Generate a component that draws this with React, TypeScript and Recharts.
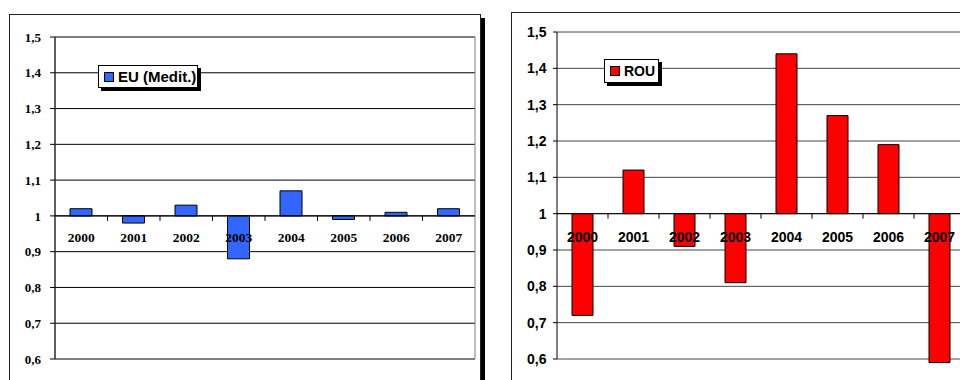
import {
  ComposedChart,
  Bar,
  Line,
  XAxis,
  YAxis,
  CartesianGrid,
  ReferenceLine,
  ReferenceArea,
  LabelList,
} from "recharts";

const YEARS = ["2000", "2001", "2002", "2003", "2004", "2005", "2006", "2007"];
const EU_MEDIT = [1.02, 0.98, 1.03, 0.88, 1.07, 0.99, 1.01, 1.02];
const ROU = [0.72, 1.12, 0.91, 0.81, 1.44, 1.27, 1.19, 0.59];
const Y_TICKS = [0.6, 0.7, 0.8, 0.9, 1, 1.1, 1.2, 1.3, 1.4, 1.5];
const BASELINE = 1;

const SERIF = '"Liberation Serif", "Times New Roman", serif';
const SANS = '"Liberation Sans", Arial, sans-serif';

const fmtTick = (v: number) => (v === 1 ? "1" : v.toFixed(1).replace(".", ","));

type PanelProps = {
  name: string;
  values: number[];
  color: string;
  font: string;
  tickFont: number;
  yearFont: number;
  yearDy: number;
  gridColor: string;
  barSize: number;
  width: number;
  height: number;
  margin: { top: number; right: number; bottom: number; left: number };
  tickMargin: number;
  tickSize: number;
  frame?: boolean;
  legend: { left: number; top: number; width: number; height: number; fontSize: number };
};

// year labels + boundary tick marks, hung off an invisible line at the baseline
const makeYearTick = (band: number, font: string, size: number, dy: number) => (props: any) => {
  const vb = props.viewBox ?? {};
  const x = vb.x ?? props.x;
  const y = vb.y ?? props.y;
  return (
    <g>
      {props.index > 0 && (
        <line x1={x - band / 2} x2={x - band / 2} y1={y} y2={y + 5} stroke="#000" />
      )}
      <text
        x={x}
        y={y + dy}
        textAnchor="middle"
        fontFamily={font}
        fontSize={size}
        fontWeight="bold"
        fill="#000"
      >
        {props.value}
      </text>
    </g>
  );
};

const Panel = (p: PanelProps) => {
  const data = YEARS.map((year, i) => ({ year, base: BASELINE, value: p.values[i] }));
  const plotWidth = p.width - p.margin.left - p.margin.right - 45;
  const band = plotWidth / YEARS.length;

  return (
    <div style={{ position: "relative" }}>
      <ComposedChart width={p.width} height={p.height} data={data} margin={p.margin}>
        <CartesianGrid vertical={false} stroke={p.gridColor} />
        {p.frame && (
          <ReferenceArea y1={0.6} y2={1.5} fill="none" stroke="#808080" ifOverflow="visible" />
        )}
        <XAxis dataKey="year" hide />
        <YAxis
          width={45}
          domain={[0.6, 1.5]}
          ticks={Y_TICKS}
          interval={0}
          tickFormatter={fmtTick}
          axisLine={{ stroke: "#000" }}
          tickLine={{ stroke: "#000" }}
          tickSize={p.tickSize}
          tickMargin={p.tickMargin}
          tick={{ fill: "#000", fontSize: p.tickFont, fontWeight: "bold", fontFamily: p.font }}
        />
        <Bar
          dataKey={(d: any) => [d.base, d.value]}
          fill={p.color}
          stroke="#000"
          strokeWidth={1}
          barSize={p.barSize}
          isAnimationActive={false}
        />
        <ReferenceLine y={BASELINE} stroke="#000" />
        <Line
          dataKey="base"
          stroke="none"
          dot={false}
          activeDot={false}
          isAnimationActive={false}
        >
          <LabelList dataKey="year" content={makeYearTick(band, p.font, p.yearFont, p.yearDy)} />
        </Line>
      </ComposedChart>
      <div
        style={{
          position: "absolute",
          left: p.legend.left,
          top: p.legend.top,
          width: p.legend.width,
          height: p.legend.height,
          boxSizing: "border-box",
          border: "1px solid #000",
          background: "#fff",
          boxShadow: "3px 3px 0 #000",
          display: "flex",
          alignItems: "center",
          paddingLeft: 5,
          fontFamily: SANS,
          fontWeight: "bold",
          fontSize: p.legend.fontSize,
          color: "#000",
        }}
      >
        <span
          style={{
            display: "inline-block",
            width: 8,
            height: 8,
            background: p.color,
            border: "1px solid #000",
            marginRight: 4,
          }}
        />
        {p.name}
      </div>
    </div>
  );
};

export default function App() {
  return (
    <div
      style={{
        position: "absolute",
        left: 0,
        top: 0,
        width: 960,
        height: 380,
        overflow: "hidden",
        background: "#fff",
      }}
    >
      <div
        style={{
          position: "absolute",
          left: 9,
          top: 14,
          width: 472,
          height: 400,
          boxSizing: "border-box",
          border: "1px solid #222",
          boxShadow: "4px 4px 0 #000",
          background: "#fff",
        }}
      >
        <Panel
          name="EU (Medit.)"
          values={EU_MEDIT}
          color="#3366ff"
          font={SERIF}
          tickFont={13}
          yearFont={13.5}
          yearDy={26.5}
          gridColor="#000"
          barSize={22}
          width={470}
          height={364}
          margin={{ top: 22, right: 5, bottom: 20, left: 0 }}
          tickSize={5}
          tickMargin={9}
          frame
          legend={{ left: 88, top: 50, width: 100, height: 23, fontSize: 15 }}
        />
      </div>
      <div
        style={{
          position: "absolute",
          left: 511,
          top: 12,
          width: 480,
          height: 400,
          boxSizing: "border-box",
          border: "1px solid #222",
          background: "#fff",
        }}
      >
        <Panel
          name="ROU"
          values={ROU}
          color="#ff0000"
          font={SANS}
          tickFont={14}
          yearFont={14}
          yearDy={28.5}
          gridColor="#444"
          barSize={21}
          width={468}
          height={366}
          margin={{ top: 19, right: 15, bottom: 20, left: 0 }}
          tickSize={4}
          tickMargin={6.5}
          legend={{ left: 92, top: 46, width: 55, height: 24, fontSize: 14 }}
        />
      </div>
    </div>
  );
}
